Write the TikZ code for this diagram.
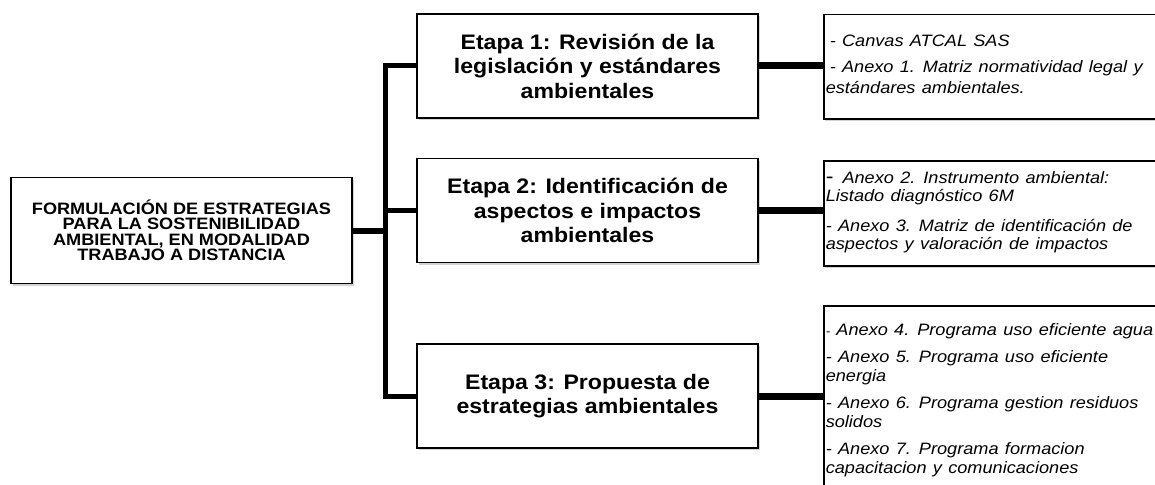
\documentclass[tikz,border=0pt]{standalone}
\usepackage{fontspec}
\setmainfont[FakeStretch=1.1]{Liberation Sans}
\newfontfamily\anexofont[FakeStretch=1.1, WordSpace=1.25]{Liberation Sans}
\usetikzlibrary{positioning, shadows}

\begin{document}
\begin{tikzpicture}[x=1pt, y=-1pt,
  box/.style={draw, line width=1.5pt, fill=white,
    drop shadow={shadow xshift=1.5pt, shadow yshift=-2pt, opacity=.35}},
  etapa/.style={box, minimum width=341pt, minimum height=104pt, align=center,
    font=\fontsize{21}{24.5}\selectfont\bfseries},
  anexo/.style={box, anchor=north west, inner xsep=2pt, inner ysep=0pt,
    font=\anexofont\itshape},
  bus/.style={line width=5pt}]
  \useasboundingbox (0,0) rectangle (1155,484);

  % tema central
  \node[box, minimum width=341pt, minimum height=106pt, align=center,
    font=\fontsize{16.5}{15.5}\selectfont\bfseries] (tema) at (181.5,230.5)
    {FORMULACIÓN DE ESTRATEGIAS\\PARA LA SOSTENIBILIDAD\\AMBIENTAL, EN MODALIDAD\\TRABAJO A DISTANCIA};

  % etapas
  \node[etapa] (etapa1) at (587.5,66) {Etapa 1: Revisión de la\\legislación y estándares\\ambientales};
  \node[etapa] (etapa2) at (587.5,210.5) {Etapa 2: Identificación de\\aspectos e impactos\\ambientales};
  \node[etapa] (etapa3) at (587.5,396) {Etapa 3: Propuesta de\\estrategias ambientales};

  % anexos
  \node[anexo] (anexo1) at (823,14) {\parbox[t][104pt][t]{338pt}{%
    \fontsize{16.5}{21}\selectfont\vspace*{20pt}%
    \hspace*{4pt}- Canvas ATCAL SAS\\[5pt]
    \hspace*{4pt}- Anexo 1. Matriz normatividad legal y\\
    estándares ambientales.}};
  \node[anexo] (anexo2) at (823,160) {\parbox[t][105pt][t]{338pt}{%
    \fontsize{16.5}{17.5}\selectfont\vspace*{11pt}%
    {\upshape\fontsize{21}{17.5}\selectfont -}\ \,Anexo 2. Instrumento ambiental:\\
    Listado diagnóstico 6M\\[13pt]
    - Anexo 3. Matriz de identificación de\\
    aspectos y valoración de impactos}};
  \node[anexo] (anexo3) at (823,305) {\parbox[t][200pt][t]{338pt}{%
    \fontsize{16.5}{19}\selectfont\vspace*{18pt}%
    {\fontsize{12}{19}\selectfont -} Anexo 4. Programa uso eficiente agua\\[8pt]
    - Anexo 5. Programa uso eficiente\\
    energia\\[8pt]
    - Anexo 6. Programa gestion residuos\\
    solidos\\[8pt]
    - Anexo 7. Programa formacion\\
    capacitacion y comunicaciones}};

  % conectores
  \coordinate (nudo) at (385,230.5);
  \draw[line width=6pt] (tema.east) -- (nudo);
  \draw[bus] (etapa1.west) -| (nudo) |- (etapa3.west);
  \draw[bus] (etapa2.west) -- (etapa2.west -| nudo);
  \draw[line width=7pt] (etapa1.east) -- (etapa1.east -| anexo1.west);
  \draw[line width=7pt] (etapa2.east) -- (etapa2.east -| anexo2.west);
  \draw[line width=7pt] (etapa3.east) -- (etapa3.east -| anexo3.west);
\end{tikzpicture}
\end{document}
